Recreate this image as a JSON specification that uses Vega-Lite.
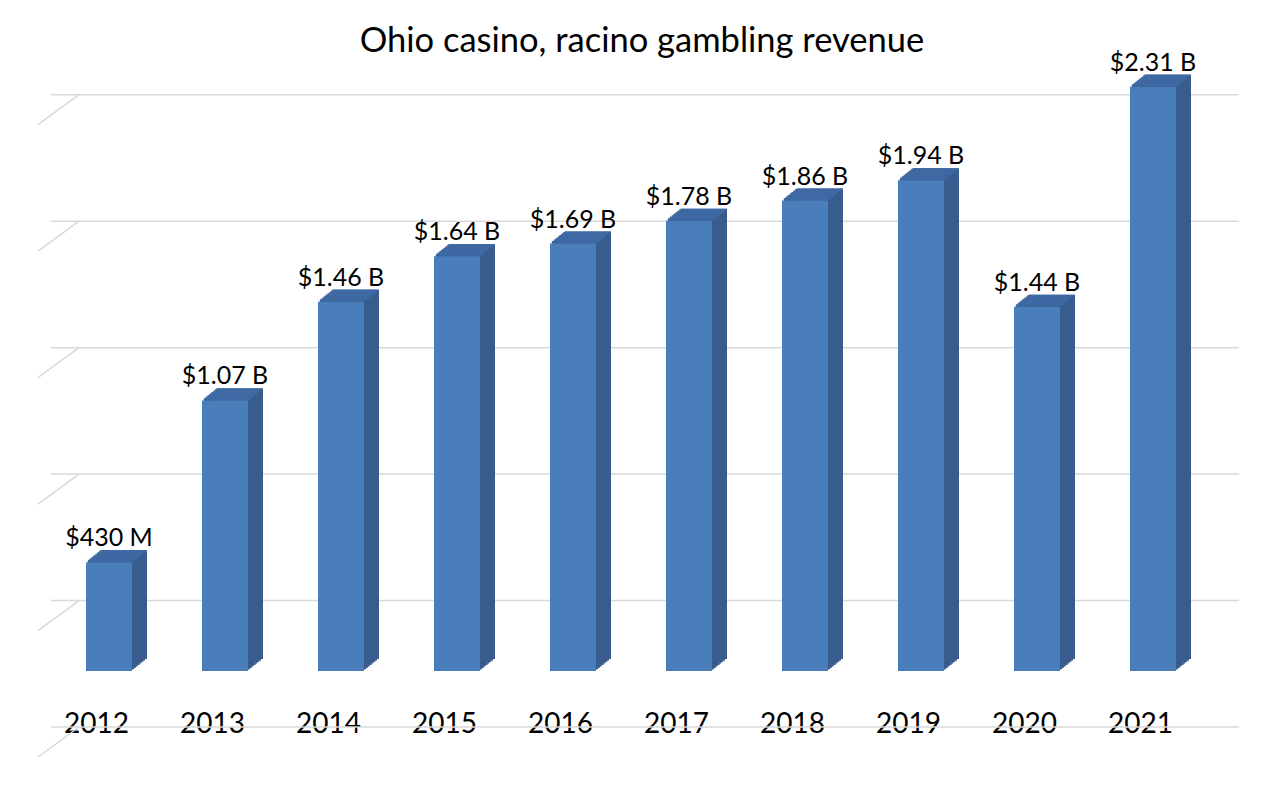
{
  "$schema": "https://vega.github.io/schema/vega-lite/v6.json",
  "autosize": {"type": "none"},
  "width": 1160,
  "height": 607,
  "padding": {"left": 51, "top": 64, "right": 69, "bottom": 114},
  "background": "white",
  "title": {"text": "Ohio casino, racino gambling revenue", "fontSize": 34.5, "fontWeight": "normal", "font": "Lato", "color": "#000000", "anchor": "middle", "offset": -9, "dx": 11},
  "datasets": {
    "revenue": [
      {"year": "2012", "value": 0.43, "label": "$430 M"},
      {"year": "2013", "value": 1.07, "label": "$1.07 B"},
      {"year": "2014", "value": 1.46, "label": "$1.46 B"},
      {"year": "2015", "value": 1.64, "label": "$1.64 B"},
      {"year": "2016", "value": 1.69, "label": "$1.69 B"},
      {"year": "2017", "value": 1.78, "label": "$1.78 B"},
      {"year": "2018", "value": 1.86, "label": "$1.86 B"},
      {"year": "2019", "value": 1.94, "label": "$1.94 B"},
      {"year": "2020", "value": 1.44, "label": "$1.44 B"},
      {"year": "2021", "value": 2.31, "label": "$2.31 B"}
    ],
    "grid": [{"v": 0}, {"v": 0.5}, {"v": 1}, {"v": 1.5}, {"v": 2}, {"v": 2.5}]
  },
  "layer": [
    {
      "data": {"name": "grid"},
      "mark": {"type": "rule", "color": "#d9d9d9", "strokeWidth": 1.5, "xOffset": 28, "x2Offset": 28, "yOffset": 56},
      "encoding": {"y": {"field": "v", "type": "quantitative", "scale": {"domain": [0, 2.4], "nice": false, "zero": true}, "axis": null}}
    },
    {
      "data": {"name": "grid"},
      "mark": {"type": "rule", "color": "#d9d9d9", "strokeWidth": 1.5, "xOffset": -71, "x2Offset": -30, "yOffset": 86, "y2Offset": 56},
      "encoding": {
        "x": {"datum": "2012", "type": "ordinal"},
        "x2": {"datum": "2012"},
        "y": {"field": "v", "type": "quantitative", "scale": {"domain": [0, 2.4], "nice": false, "zero": true}, "axis": null},
        "y2": {"field": "v"}
      }
    },
    {
      "data": {"name": "revenue"},
      "encoding": {
        "x": {"field": "year", "type": "ordinal", "scale": {"paddingInner": 0, "paddingOuter": 0},
              "axis": {"orient": "bottom", "title": null, "ticks": false, "domain": false, "grid": false, "labelAngle": 0, "labelFont": "Lato", "labelFontSize": 28, "labelColor": "#000000", "labelPadding": 53, "labelOffset": 20}},
        "y": {"field": "value", "type": "quantitative", "scale": {"domain": [0, 2.4], "nice": false, "zero": true}, "axis": null}
      },
      "layer": [
        {"mark": {"type": "bar", "width": 46, "color": "#375c8d", "xOffset": 1.875, "x2Offset": 1.875, "yOffset": -1.5, "y2Offset": -1.5}},
        {"mark": {"type": "bar", "width": 46, "color": "#375c8d", "xOffset": 3.75, "x2Offset": 3.75, "yOffset": -3, "y2Offset": -3}},
        {"mark": {"type": "bar", "width": 46, "color": "#375c8d", "xOffset": 5.625, "x2Offset": 5.625, "yOffset": -4.5, "y2Offset": -4.5}},
        {"mark": {"type": "bar", "width": 46, "color": "#375c8d", "xOffset": 7.5, "x2Offset": 7.5, "yOffset": -6, "y2Offset": -6}},
        {"mark": {"type": "bar", "width": 46, "color": "#375c8d", "xOffset": 9.375, "x2Offset": 9.375, "yOffset": -7.5, "y2Offset": -7.5}},
        {"mark": {"type": "bar", "width": 46, "color": "#375c8d", "xOffset": 11.25, "x2Offset": 11.25, "yOffset": -9, "y2Offset": -9}},
        {"mark": {"type": "bar", "width": 46, "color": "#375c8d", "xOffset": 13.125, "x2Offset": 13.125, "yOffset": -10.5, "y2Offset": -10.5}},
        {"mark": {"type": "bar", "width": 46, "color": "#375c8d", "xOffset": 15, "x2Offset": 15, "yOffset": -12, "y2Offset": -12}},
        {"mark": {"type": "tick", "orient": "horizontal", "size": 46, "thickness": 2, "color": "#3e69a3", "opacity": 1, "xOffset": 1.875, "yOffset": -1.5}},
        {"mark": {"type": "tick", "orient": "horizontal", "size": 46, "thickness": 2, "color": "#3e69a3", "opacity": 1, "xOffset": 3.75, "yOffset": -3}},
        {"mark": {"type": "tick", "orient": "horizontal", "size": 46, "thickness": 2, "color": "#3e69a3", "opacity": 1, "xOffset": 5.625, "yOffset": -4.5}},
        {"mark": {"type": "tick", "orient": "horizontal", "size": 46, "thickness": 2, "color": "#3e69a3", "opacity": 1, "xOffset": 7.5, "yOffset": -6}},
        {"mark": {"type": "tick", "orient": "horizontal", "size": 46, "thickness": 2, "color": "#3e69a3", "opacity": 1, "xOffset": 9.375, "yOffset": -7.5}},
        {"mark": {"type": "tick", "orient": "horizontal", "size": 46, "thickness": 2, "color": "#3e69a3", "opacity": 1, "xOffset": 11.25, "yOffset": -9}},
        {"mark": {"type": "tick", "orient": "horizontal", "size": 46, "thickness": 2, "color": "#3e69a3", "opacity": 1, "xOffset": 13.125, "yOffset": -10.5}},
        {"mark": {"type": "tick", "orient": "horizontal", "size": 46, "thickness": 1.5, "color": "#3e69a3", "opacity": 1, "xOffset": 14.5, "yOffset": -11.4}},
        {"mark": {"type": "bar", "width": 46, "color": "#4a7ebb"}},
        {
          "mark": {"type": "text", "baseline": "alphabetic", "dy": -16, "fontSize": 25, "font": "Lato", "color": "#000000"},
          "encoding": {"text": {"field": "label"}}
        }
      ]
    }
  ],
  "config": {"view": {"stroke": null}, "font": "Lato"}
}
